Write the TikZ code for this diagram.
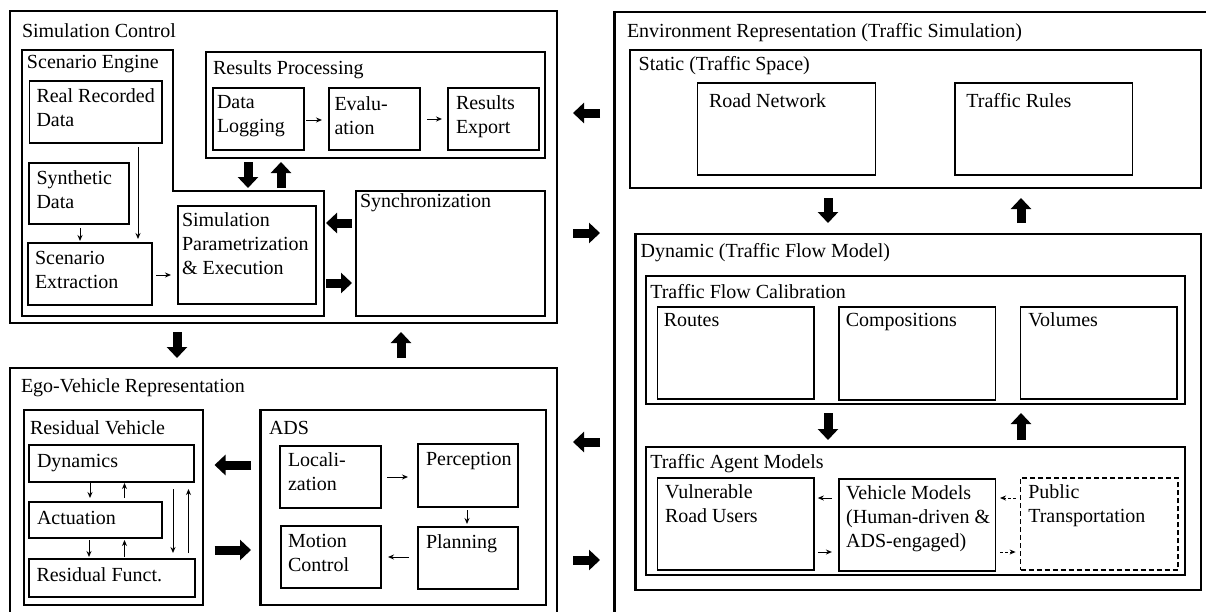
\documentclass[tikz,border=0pt]{standalone}
\usepackage{fontspec}
\setmainfont{Liberation Serif}
\usetikzlibrary{arrows.meta}
\tikzset{
  heavy/.style={draw, line width=2.6pt, inner sep=0pt, outer sep=0pt},
  mid/.style={draw, line width=1.8pt, inner sep=0pt, outer sep=0pt},
  leaf/.style={draw, line width=1.4pt, inner sep=0pt, outer sep=0pt},
  dashleaf/.style={draw, line width=1.3pt, dash pattern=on 5pt off 3pt, inner sep=0pt, outer sep=0pt},
  lbl/.style={inner sep=0pt, outer sep=0pt, anchor=base west, align=left, font=\fontsize{20}{24}\selectfont},
  bigarrow/.style={line width=9pt, -{Triangle[length=11pt,width=20pt]}},
  thinarrow/.style={line width=1pt, -{Stealth[length=6pt,width=5pt]}},
  dasharrow/.style={line width=1pt, dash pattern=on 3pt off 2pt, -{Stealth[length=6pt,width=5pt]}}
}
% text y = baseline of the LAST line of the label
\newcommand\mybox[9]{%
  \node[#1, anchor=north west, minimum width={#5-#3}, minimum height={#6-#4}] (#2) at (#3,#4) {};
  \node[lbl] (#2-t) at (#7,#8) {#9};
}
\begin{document}
\begin{tikzpicture}[x=1pt,y=-1pt]
\useasboundingbox (0,0) rectangle (1206,611);
\fill[white] (0,0) rectangle (1206,611);

% ---------------- Simulation Control ----------------
\mybox{heavy}{sc}{10}{11}{557}{323}{22}{37}{Simulation Control}
\draw[line width=2.6pt, line join=miter] (22,50) -- (173,50) -- (173,191) -- (324,191) -- (324,316) -- (22,316) -- cycle;
\coordinate (sestep) at (248,191);
\coordinate (seright) at (324,250);
\node[lbl] (se-t) at (27,68.5) {Scenario Engine};
\mybox{leaf}{rrd}{29.5}{81}{162}{143}{36.5}{126.5}{Real Recorded\\Data}
\mybox{leaf}{syn}{29}{163}{129}{224}{36.5}{208.5}{Synthetic\\Data}
\mybox{leaf}{sce}{28}{243}{152}{305}{35}{288.5}{Scenario\\Extraction}
\mybox{leaf}{spe}{178}{206}{316}{304}{182}{274}{Simulation\\Parametrization\\\& Execution}
\mybox{heavy}{rp}{206}{52}{545}{158}{213}{74.5}{Results Processing}
\mybox{leaf}{dl}{213}{88}{304}{150}{217}{132}{Data\\Logging}
\mybox{leaf}{ev}{329}{88}{420}{150}{334.5}{134}{Evalu-\\ation}
\mybox{leaf}{re}{448}{88}{539}{150}{456}{133.5}{Results\\Export}
\mybox{heavy}{sync}{356}{191}{545}{316}{360}{207.5}{Synchronization}

\draw[thinarrow, shorten <=4pt, shorten >=4pt] (rrd.south -| 138,0) -- (sce.north -| 138,0);
\draw[thinarrow, shorten <=4pt, shorten >=2pt] (syn.south -| 80,0) -- (sce.north -| 80,0);
\draw[thinarrow, shorten <=4pt, shorten >=7pt] (sce.east |- 0,275) -- (spe.west |- 0,275);
\draw[thinarrow, shorten <=2pt, shorten >=7pt] (dl.east |- 0,120) -- (ev.west |- 0,120);
\draw[thinarrow, shorten <=7pt, shorten >=6pt] (ev.east |- 0,119) -- (re.west |- 0,119);
\draw[bigarrow, shorten <=4pt, shorten >=3pt] (rp.south -| 248,0) -- (sestep -| 248,0);
\draw[bigarrow, shorten <=3pt, shorten >=4pt] (sestep -| 281,0) -- (rp.south -| 281,0);
\draw[bigarrow, shorten <=4pt, shorten >=2pt] (sync.west |- 0,223) -- (seright |- 0,223);
\draw[bigarrow, shorten <=2pt, shorten >=4pt] (seright |- 0,283) -- (sync.west |- 0,283);

% ---------------- Ego-Vehicle Representation ----------------
\mybox{heavy}{ego}{10}{368}{557}{625}{21}{392.5}{Ego-Vehicle Representation}
\mybox{heavy}{rv}{24}{410}{203}{605}{30}{434.5}{Residual Vehicle}
\mybox{leaf}{dyn}{29}{445}{194}{482}{37}{467.5}{Dynamics}
\mybox{leaf}{act}{29}{502}{162}{538}{37}{524}{Actuation}
\mybox{leaf}{rf}{29}{559}{195}{597}{36.5}{581.5}{Residual Funct.}
\mybox{heavy}{ads}{260.5}{410}{546}{605}{269}{434}{ADS}
\mybox{leaf}{loc}{280}{446}{381}{508}{288}{490.5}{Locali-\\zation}
\mybox{leaf}{per}{418}{444}{518}{507}{426}{465}{Perception}
\mybox{leaf}{mc}{281}{526}{381}{588}{288}{571.5}{Motion\\Control}
\mybox{leaf}{pla}{418}{527}{518}{589}{426}{548.5}{Planning}

\draw[thinarrow, shorten <=1pt, shorten >=4pt] (dyn.south -| 90,0) -- (act.north -| 90,0);
\draw[thinarrow, shorten <=4pt, shorten >=1pt] (act.north -| 124.5,0) -- (dyn.south -| 124.5,0);
\draw[thinarrow, shorten <=2pt, shorten >=2pt] (act.south -| 89,0) -- (rf.north -| 89,0);
\draw[thinarrow, shorten <=2pt, shorten >=2pt] (rf.north -| 124.5,0) -- (act.south -| 124.5,0);
\draw[thinarrow, shorten <=7pt, shorten >=6pt] (dyn.south -| 173,0) -- (rf.north -| 173,0);
\draw[thinarrow, shorten <=6pt, shorten >=7pt] (rf.north -| 188.5,0) -- (dyn.south -| 188.5,0);
\draw[thinarrow, shorten <=6pt, shorten >=10pt] (loc.east |- 0,477) -- (per.west |- 0,477);
\draw[thinarrow, shorten <=3pt, shorten >=3pt] (per.south -| 467,0) -- (pla.north -| 467,0);
\draw[thinarrow, shorten <=9pt, shorten >=7pt] (pla.west |- 0,557) -- (mc.east |- 0,557);
\draw[bigarrow, shorten <=9.5pt, shorten >=11.5pt] (ads.west |- 0,465) -- (rv.east |- 0,465);
\draw[bigarrow, shorten <=11.5pt, shorten >=9.5pt] (rv.east |- 0,550) -- (ads.west |- 0,550);

% between Simulation Control and Ego-Vehicle
\draw[bigarrow, shorten <=9pt, shorten >=10pt] (sc.south -| 177,0) -- (ego.north -| 177,0);
\draw[bigarrow, shorten <=10pt, shorten >=9pt] (ego.north -| 401,0) -- (sc.south -| 401,0);

% ---------------- Environment Representation ----------------
\mybox{heavy}{env}{614.5}{12}{1220}{625}{627}{37.5}{Environment Representation (Traffic Simulation)}
\mybox{heavy}{st}{630}{50}{1201}{188}{638.7}{70}{Static (Traffic Space)}
\mybox{leaf}{rn}{697.4}{83}{875.2}{175}{709}{107.5}{Road Network}
\mybox{leaf}{tr}{954.9}{83}{1132.3}{175}{966.4}{107.5}{Traffic Rules}
\mybox{heavy}{dynm}{635.6}{234}{1201}{590}{640.6}{257.5}{Dynamic (Traffic Flow Model)}
\mybox{mid}{tfc}{645.6}{276}{1184.8}{404}{650.3}{298.5}{Traffic Flow Calibration}
\mybox{leaf}{rou}{657.2}{307}{813.8}{399}{663.8}{326.5}{Routes}
\mybox{leaf}{com}{838.9}{307}{995.4}{400}{845.8}{326.5}{Compositions}
\mybox{leaf}{vol}{1020.6}{307}{1177}{399}{1028.3}{326.5}{Volumes}
\mybox{mid}{tam}{645.6}{447}{1184.8}{575}{650.3}{468.5}{Traffic Agent Models}
\mybox{leaf}{vru}{657.2}{478}{813.8}{570}{665}{522.5}{Vulnerable\\Road Users}
\mybox{leaf}{vm}{838.9}{479}{995.4}{571}{846.2}{547}{Vehicle Models\\(Human-driven \&\\ADS-engaged)}
\mybox{dashleaf}{pt}{1020.6}{478}{1177.9}{570}{1028.3}{522.5}{Public\\Transportation}

\draw[bigarrow, shorten <=10pt, shorten >=11pt] (st.south -| 828,0) -- (dynm.north -| 828,0);
\draw[bigarrow, shorten <=11pt, shorten >=10pt] (dynm.north -| 1021,0) -- (st.south -| 1021,0);
\draw[bigarrow, shorten <=9pt, shorten >=7pt] (tfc.south -| 828,0) -- (tam.north -| 828,0);
\draw[bigarrow, shorten <=7pt, shorten >=9pt] (tam.north -| 1021,0) -- (tfc.south -| 1021,0);
\draw[thinarrow, shorten <=7pt, shorten >=4pt] (vm.west |- 0,498) -- (vru.east |- 0,498);
\draw[thinarrow, shorten <=4pt, shorten >=7pt] (vru.east |- 0,552) -- (vm.west |- 0,552);
\draw[dasharrow, shorten <=5pt, shorten >=4.6pt] (pt.west |- 0,498) -- (vm.east |- 0,498);
\draw[dasharrow, shorten <=4.6pt, shorten >=5pt] (vm.east |- 0,552) -- (pt.west |- 0,552);

% between left column and Environment
\draw[bigarrow, shorten <=14.5pt, shorten >=16pt] (env.west |- 0,113) -- (sc.east |- 0,113);
\draw[bigarrow, shorten <=16pt, shorten >=14.5pt] (sc.east |- 0,233) -- (env.west |- 0,233);
\draw[bigarrow, shorten <=14.5pt, shorten >=16pt] (env.west |- 0,442) -- (ego.east |- 0,442);
\draw[bigarrow, shorten <=16pt, shorten >=14.5pt] (ego.east |- 0,560) -- (env.west |- 0,560);
\end{tikzpicture}
\end{document}
